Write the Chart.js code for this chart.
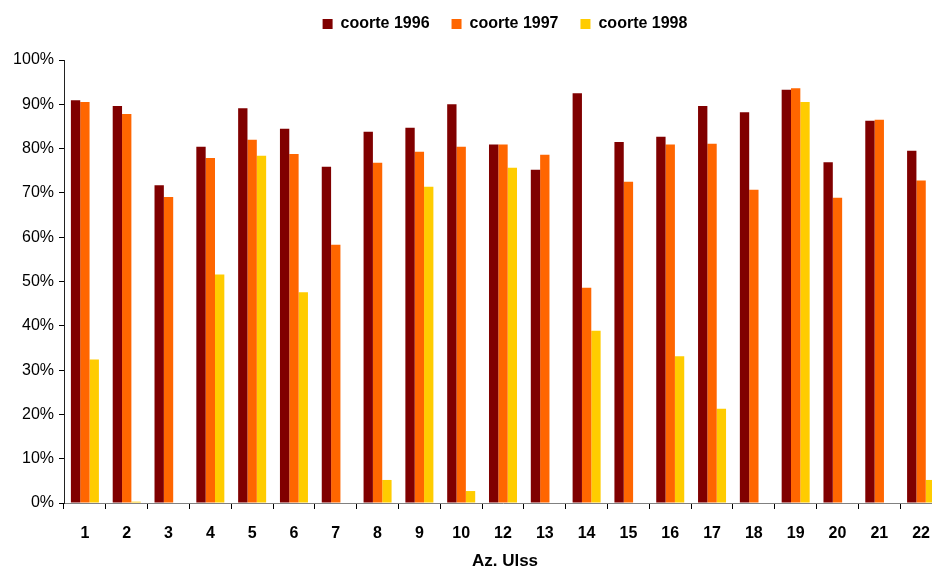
<!DOCTYPE html>
<html>
<head>
<meta charset="utf-8">
<script src="https://cdn.jsdelivr.net/npm/chart.js@4.4.1/dist/chart.umd.min.js"></script>
<style>
  html, body { margin: 0; padding: 0; background: #fff; overflow: hidden; }
  #wrap { position: relative; width: 1010px; height: 567px; }
</style>
</head>
<body>
<div id="wrap"><canvas id="c" width="1010" height="567"></canvas></div>
<script>
// Az. Ulss codes (no 11)
const ulss = ['1','2','3','4','5','6','7','8','9','10','12','13','14','15','16','17','18','19','20','21','22'];
// Coverage by birth cohort, percent
const coorte1996 = [90.9, 89.6, 71.7, 80.4, 89.1, 84.5, 75.9, 83.8, 84.7, 90.0, 80.9, 75.2, 92.5, 81.5, 82.7, 89.6, 88.2, 93.3, 76.9, 86.3, 79.5];
const coorte1997 = [90.5, 87.8, 69.1, 77.9, 82.0, 78.8, 58.3, 76.8, 79.3, 80.4, 80.9, 78.6, 48.6, 72.5, 80.9, 81.1, 70.7, 93.6, 68.9, 86.5, 72.8];
const coorte1998 = [32.4, 0.3, null, 51.6, 78.4, 47.6, null, 5.2, 71.4, 2.7, 75.7, null, 38.9, null, 33.1, 21.3, null, 90.5, null, null, 5.2];
const yTicks = [0, 10, 20, 30, 40, 50, 60, 70, 80, 90, 100];

const FONT = 'Arial, "Liberation Sans", sans-serif';

const axisTitle = {
  id: 'axisTitle',
  afterDraw(chart) {
    const ctx = chart.ctx;
    ctx.save();
    ctx.font = 'bold 17px ' + FONT;
    ctx.fillStyle = '#000';
    ctx.textAlign = 'center';
    ctx.textBaseline = 'middle';
    ctx.fillText('Az. Ulss', chart.width / 2, chart.chartArea.bottom + 58);
    ctx.restore();
  }
};

new Chart(document.getElementById('c'), {
  type: 'bar',
  data: {
    labels: ulss,
    datasets: [
      { label: 'coorte 1996', data: coorte1996, backgroundColor: '#800000' },
      { label: 'coorte 1997', data: coorte1997, backgroundColor: '#FF6600' },
      { label: 'coorte 1998', data: coorte1998, backgroundColor: '#FFCC00' }
    ]
  },
  options: {
    responsive: false,
    animation: false,
    layout: { padding: { top: -6, left: 0, right: 0, bottom: 0 } },
    datasets: { bar: { categoryPercentage: 0.67, barPercentage: 1.0, borderWidth: 0 } },
    plugins: {
      legend: {
        position: 'top',
        labels: {
          boxWidth: 10, boxHeight: 10, padding: 22,
          color: '#000',
          font: { family: FONT, size: 16, weight: 'bold' }
        }
      },
      // blank spacer between legend and plot
      subtitle: {
        display: true, text: '', position: 'top', weight: 500,
        padding: 0, font: { size: 18, lineHeight: 1 }
      },
      tooltip: { enabled: false }
    },
    scales: {
      x: {
        grid: { display: true, drawOnChartArea: false, offset: true, tickLength: 6, color: '#000' },
        border: { color: '#808080', width: 1 },
        ticks: { color: '#000', font: { family: FONT, size: 16, weight: 'bold' }, padding: 15, maxRotation: 0, autoSkip: false },
        afterFit(s) { s.height = 64; }
      },
      y: {
        min: 0, max: 100,
        afterBuildTicks(s) { s.ticks = yTicks.map(v => ({ value: v })); },
        grid: { display: true, drawOnChartArea: false, tickLength: 5, color: '#000' },
        border: { color: '#222', width: 1 },
        ticks: { color: '#000', font: { family: FONT, size: 16 }, padding: 5, callback: v => v + '%' },
        afterFit(s) { s.width = 64; }
      },
      // empty right-hand margin axis
      yRight: {
        position: 'right', min: 0, max: 100,
        grid: { display: false }, border: { display: false }, ticks: { display: false },
        afterFit(s) { s.width = 68; }
      }
    }
  },
  plugins: [axisTitle]
});
</script>
</body>
</html>
